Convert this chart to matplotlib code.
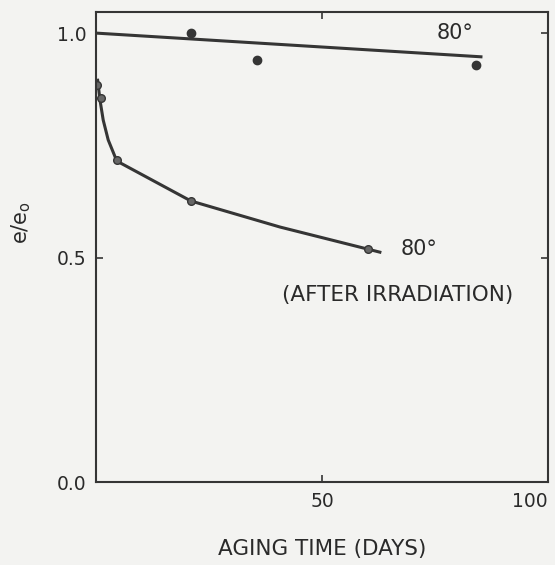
import matplotlib
matplotlib.use("Agg")
import matplotlib.pyplot as plt

# Data: 80 deg aging (unirradiated) - points and fitted line
upper_x = [21.0, 35.6, 84.0]
upper_y = [1.0, 0.94, 0.929]
upper_fit_x = [0.0, 85.5]
upper_fit_y = [1.0, 0.947]

# 80 deg aging after irradiation - points and hand-drawn curve
lower_x = [0.3, 1.1, 4.7, 21.0, 60.2]
lower_y = [0.885, 0.855, 0.717, 0.626, 0.519]
lower_fit_x = [0.37, 0.88, 1.6, 2.7, 4.6, 21.0, 40.7, 62.8]
lower_fit_y = [0.895, 0.851, 0.806, 0.762, 0.715, 0.626, 0.568, 0.512]

x_ticks = [0, 50, 100]
x_ticklabels = ["", "50", "100"]
y_ticks = [0.0, 0.5, 1.0]
y_ticklabels = ["0.0", "0.5", "1.0"]

bg = "#f3f3f1"
ink = "#353535"
txt = "#2a2a2a"
plt.rcParams['font.family'] = ['DejaVu Sans']

fig = plt.figure(figsize=(5.55, 5.65), dpi=100, facecolor=bg)
ax = fig.add_axes([96/555, (565-482)/565, (548-96)/555, (482-12)/565])
ax.set_facecolor(bg)

ax.plot(upper_fit_x, upper_fit_y, color=ink, lw=2.2, solid_capstyle='butt')
ax.plot(upper_x, upper_y, 'o', color=ink, ms=6)
ax.plot(lower_fit_x, lower_fit_y, color=ink, lw=2.2)
ax.plot(lower_x, lower_y, 'o', color=ink, ms=5.5, mfc='#666666')

ax.set_xlim(0, 100)
ax.set_ylim(0, 1.047)
ax.set_xticks(x_ticks)
ax.set_xticklabels(x_ticklabels)
ax.set_yticks(y_ticks)
ax.set_yticklabels(y_ticklabels)
ax.tick_params(direction='in', length=5, width=1.2, color=ink, labelcolor=txt,
               labelsize=13.5, top=True, right=True, pad=7)
ax.get_xticklabels()[2].set_horizontalalignment('right')
for s in ax.spines.values():
    s.set_color(ink)
    s.set_linewidth(1.5)

ax.text(79.4, 1.0, "80°", fontsize=15, color=txt, ha='center', va='center')
ax.text(71.5, 0.518, "80°", fontsize=15, color=txt, ha='center', va='center')
ax.text(66.8, 0.416, "(AFTER IRRADIATION)", fontsize=15.5, color=txt, ha='center', va='center')

ax.set_xlabel("AGING TIME (DAYS)", fontsize=15.5, color=txt, labelpad=20)
ax.set_ylabel("e/e$_\\mathregular{o}$", fontsize=15, color=txt)
ax.yaxis.set_label_coords(-0.139, 0.552)

fig.savefig("out.png", dpi=100, facecolor=bg)
